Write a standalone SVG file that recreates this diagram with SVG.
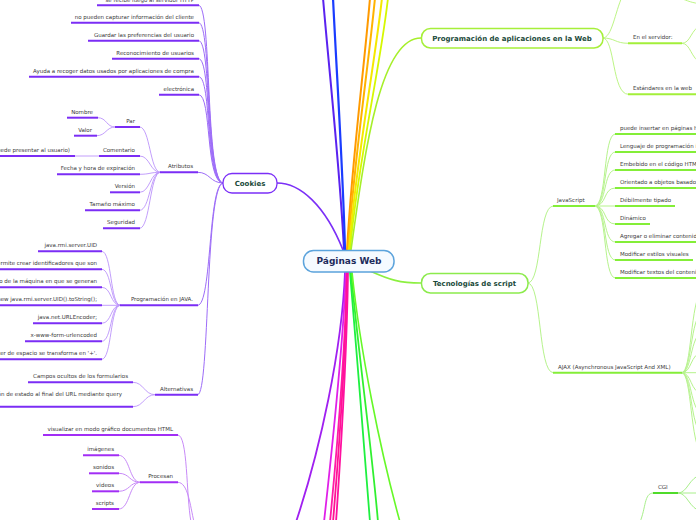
<svg xmlns="http://www.w3.org/2000/svg" width="696" height="520" viewBox="0 0 696 520">
<style>
.t{font-family:"DejaVu Sans",Verdana,sans-serif;font-size:5.5px;fill:#3a3a3a}
.e{text-anchor:end}
.h{font-family:"DejaVu Sans",Verdana,sans-serif;font-weight:bold;font-size:7px;fill:#1b4a3a;text-anchor:middle}
.c{fill:none;stroke-linecap:round}
.uc{stroke:#7b2df5;stroke-width:2;fill:none}
.ub{stroke:#a22ef5;stroke-width:2;fill:none}
.ug{stroke:#a3ef3a;stroke-width:2;fill:none}
.uj{stroke:#84ee38;stroke-width:2;fill:none}
.ux{stroke:#4fdb2a;stroke-width:2;fill:none}
.cc{stroke:#9d6cf8;stroke-width:1}
.cc3{stroke:#bb93fb;stroke-width:0.9}
.cb{stroke:#c88af8;stroke-width:1}
.cg{stroke:#bdf585;stroke-width:1}
.cj{stroke:#b6f38c;stroke-width:1}
.cx{stroke:#a8ef8a;stroke-width:1}
</style>
<g id="connectors" class="c">
  <!-- main branches from center -->
  <path d="M344,250 C340,170 330,80 323,-2" stroke="#5a22f0" stroke-width="2"/>
  <path d="M345,250 C343,170 337,80 333,-2" stroke="#1a3cff" stroke-width="2.2"/>
  <path d="M347,250 C352,160 364,70 370,-2" stroke="#ff9a00" stroke-width="2"/>
  <path d="M348,250 C354,160 368,70 375,-2" stroke="#ffb300" stroke-width="2"/>
  <path d="M349,250 C356,160 374,70 382,-2" stroke="#f5e800" stroke-width="2"/>
  <path d="M350,250 C358,160 380,70 388,-2" stroke="#d6f800" stroke-width="1.8"/>
  <path d="M351,250 C365,150 380,38 421,38" stroke="#a6ef2a" stroke-width="1.6"/>
  <path d="M343,250 C325,205 300,183 277,183" stroke="#7b2ff7" stroke-width="1.6"/>
  <path d="M370,271 C390,280 400,283 421,283" stroke="#8cf040" stroke-width="1.6"/>
  <path d="M345,272 C342,350 320,450 296,522" stroke="#a020f0" stroke-width="1.8"/>
  <path d="M346,272 C343,350 332,450 324,522" stroke="#e020e8" stroke-width="1.8"/>
  <path d="M347,272 C345,350 337,450 330,522" stroke="#ff1aa8" stroke-width="1.8"/>
  <path d="M347,272 C346,350 339,450 333,522" stroke="#ff1493" stroke-width="1.8"/>
  <path d="M348,272 C347,350 341,450 336,522" stroke="#ff10a0" stroke-width="1.8"/>
  <path d="M350,272 C356,350 365,450 370,522" stroke="#1ef040" stroke-width="1.8"/>
  <path d="M351,272 C358,350 372,450 378,522" stroke="#30f030" stroke-width="1.8"/>
  <path d="M352,272 C360,350 380,450 400,522" stroke="#66f828" stroke-width="1.6"/>

  <!-- Cookies level 2 -->
  <path class="cc" d="M223,183 C205,183 212,5.3 199,5.3"/>
  <path class="cc" d="M223,183 C205,183 212,22.7 199,22.7"/>
  <path class="cc" d="M223,183 C205,183 212,40.7 199,40.7"/>
  <path class="cc" d="M223,183 C205,183 212,58.7 199,58.7"/>
  <path class="cc" d="M223,183 C205,183 212,76.7 199,76.7"/>
  <path class="cc" d="M223,183 C205,183 212,94.7 199,94.7"/>
  <path class="cc" d="M223,183 C210,183 210,172.3 198,172.3"/>
  <path class="cc" d="M223,183 C208,183 212,305.3 198,305.3"/>
  <path class="cc" d="M223,183 C205,183 210,394.7 198,394.7"/>
  <!-- Atributos children -->
  <path class="cc3" d="M160,172.3 C150,172.3 150,127 140,127"/>
  <path class="cc3" d="M160,172.3 C150,172.3 150,156 140,156"/>
  <path class="cc3" d="M160,172.3 C150,172.3 150,174.3 140,174.3"/>
  <path class="cc3" d="M160,172.3 C150,172.3 150,192.3 140,192.3"/>
  <path class="cc3" d="M160,172.3 C150,172.3 150,210.3 140,210.3"/>
  <path class="cc3" d="M160,172.3 C150,172.3 150,228.3 140,228.3"/>
  <path class="cc3" d="M115,127 C106,127 107,117.7 98,117.7"/>
  <path class="cc3" d="M115,127 C106,127 106,135.7 97,135.7"/>
  <path class="cc3" d="M99,156 L75,156"/>
  <!-- JAVA children -->
  <path class="cc3" d="M120,305.3 C110,305.3 112,251.3 102,251.3"/>
  <path class="cc3" d="M120,305.3 C110,305.3 112,269.3 102,269.3"/>
  <path class="cc3" d="M120,305.3 C110,305.3 112,287.3 102,287.3"/>
  <path class="cc3" d="M120,305.3 L102,305.3"/>
  <path class="cc3" d="M120,305.3 C110,305.3 112,323.3 102,323.3"/>
  <path class="cc3" d="M120,305.3 C110,305.3 112,341.3 102,341.3"/>
  <path class="cc3" d="M120,305.3 C110,305.3 112,359.3 102,359.3"/>
  <!-- Alternativas children -->
  <path class="cc3" d="M155,394.7 C144,394.7 144,382.3 133,382.3"/>
  <path class="cc3" d="M155,394.7 C144,394.7 144,406.7 133,406.7"/>
  <!-- browser branch -->
  <path class="cb" d="M178,435 C188,435 186,495 191,522"/>
  <path class="cb" d="M178,482.3 C188,482.3 190,505 194,522"/>
  <path class="cb" d="M140,482.3 C129,482.3 130,455.3 119,455.3"/>
  <path class="cb" d="M140,482.3 C129,482.3 130,473.3 119,473.3"/>
  <path class="cb" d="M140,482.3 C129,482.3 130,491.3 119,491.3"/>
  <path class="cb" d="M140,482.3 C129,482.3 130,509 119,509"/>

  <!-- Programación children -->
  <path class="cg" d="M603,38 C612,38 615,12 622,-3"/>
  <path class="cg" d="M603,38 C615,38 615,43.3 628,43.3"/>
  <path class="cg" d="M603,38 C615,38 612,94.3 628,94.3"/>
  <path class="cg" d="M682,43.3 C691,43.3 690,30 702,24"/>
  <path class="cg" d="M682,43.3 C691,43.3 690,58 702,64"/>
  <path class="cg" d="M680,-2 C688,1 692,3 702,4"/>

  <!-- Tecnologías children -->
  <path class="cj" d="M528,283 C542,283 538,206 553,206"/>
  <path class="cj" d="M528,283 C542,283 538,372.7 553,372.7"/>
  <path class="cj" d="M595,206 C607,206 603,134 615,134"/>
  <path class="cj" d="M595,206 C607,206 603,152 615,152"/>
  <path class="cj" d="M595,206 C607,206 603,170 615,170"/>
  <path class="cj" d="M595,206 C607,206 603,188 615,188"/>
  <path class="cj" d="M595,206 L615,206"/>
  <path class="cj" d="M595,206 C607,206 603,224 615,224"/>
  <path class="cj" d="M595,206 C607,206 603,242 615,242"/>
  <path class="cj" d="M595,206 C607,206 603,260 615,260"/>
  <path class="cj" d="M595,206 C607,206 603,278 615,278"/>
  <path class="cj" d="M682,372.7 C692,372.7 690,300 702,290"/>
  <path class="cj" d="M682,372.7 C692,372.7 690,318 702,312"/>
  <path class="cj" d="M682,372.7 C692,372.7 690,336 702,332"/>
  <path class="cj" d="M682,372.7 C692,372.7 690,354 702,352"/>
  <path class="cj" d="M682,372.7 L702,372.7"/>
  <path class="cj" d="M682,372.7 C692,372.7 690,392 702,394"/>
  <path class="cj" d="M682,372.7 C692,372.7 690,410 702,414"/>
  <path class="cj" d="M682,372.7 C692,372.7 690,428 702,434"/>
  <path class="cj" d="M682,372.7 C692,372.7 690,446 702,454"/>
  <!-- CGI -->
  <path class="cx" d="M653,493 C644,493 646,508 640,522"/>
  <path class="cx" d="M678,493 C688,493 688,478 702,474"/>
  <path class="cx" d="M678,493 L702,493"/>
  <path class="cx" d="M678,493 C688,493 688,508 702,512"/>
</g>

<g id="center">
  <rect x="303.5" y="250.5" width="90.5" height="21.5" rx="10" fill="#f5faff" stroke="#5ba3dc" stroke-width="1.5"/>
  <text x="349" y="264.4" font-family="DejaVu Sans, Verdana, sans-serif" font-weight="bold" font-size="9" fill="#1d2b5c" text-anchor="middle">Páginas Web</text>
</g>

<g id="cookies">
  <rect x="223" y="173.5" width="54" height="19.5" rx="9" fill="#fff" stroke="#7b2ff7" stroke-width="1.3"/>
  <text class="h" x="250" y="185.6">Cookies</text>
</g>
<g id="c1"><line class="uc" x1="97" y1="5.3" x2="199" y2="5.3"/><text class="t e" x="194" y="1.6">se recibe luego al servidor HTTP</text></g>
<g id="c2"><line class="uc" x1="71" y1="22.7" x2="199" y2="22.7"/><text class="t e" x="194" y="18.8">no pueden capturar información del cliente</text></g>
<g id="c3"><line class="uc" x1="88" y1="40.7" x2="199" y2="40.7"/><text class="t e" x="194" y="36.8">Guardar las preferencias del usuario</text></g>
<g id="c4"><line class="uc" x1="112" y1="58.7" x2="199" y2="58.7"/><text class="t e" x="194" y="54.8">Reconocimiento de usuarios</text></g>
<g id="c5"><line class="uc" x1="29" y1="76.7" x2="199" y2="76.7"/><text class="t e" x="194" y="72.8">Ayuda a recoger datos usados por aplicaciones de compra</text></g>
<g id="c6"><line class="uc" x1="159" y1="94.7" x2="199" y2="94.7"/><text class="t e" x="194" y="90.8">electrónica</text></g>

<g id="atributos"><line class="uc" x1="160" y1="172.3" x2="198" y2="172.3"/><text class="t e" x="193" y="168.4">Atributos</text></g>
<g id="par"><line class="uc" x1="115" y1="127" x2="140" y2="127"/><text class="t e" x="135" y="123.1">Par</text></g>
<g id="nombre"><line class="uc" x1="67" y1="117.7" x2="98" y2="117.7"/><text class="t e" x="93" y="113.8">Nombre</text></g>
<g id="valor"><line class="uc" x1="74" y1="135.7" x2="97" y2="135.7"/><text class="t e" x="92" y="131.8">Valor</text></g>
<g id="comentario"><line class="uc" x1="99" y1="156" x2="140" y2="156"/><text class="t e" x="135" y="152.1">Comentario</text></g>
<g id="comentario-det"><line class="uc" x1="-5" y1="156" x2="75" y2="156"/><text class="t e" x="70" y="152.1">(puede presentar al usuario)</text></g>
<g id="fecha"><line class="uc" x1="57" y1="174.3" x2="140" y2="174.3"/><text class="t e" x="135" y="170.4">Fecha y hora de expiración</text></g>
<g id="version"><line class="uc" x1="110" y1="192.3" x2="140" y2="192.3"/><text class="t e" x="135" y="188.4">Versión</text></g>
<g id="tamano"><line class="uc" x1="85" y1="210.3" x2="140" y2="210.3"/><text class="t e" x="135" y="206.4">Tamaño máximo</text></g>
<g id="seguridad"><line class="uc" x1="103" y1="228.3" x2="140" y2="228.3"/><text class="t e" x="135" y="224.4">Seguridad</text></g>

<g id="java"><line class="uc" x1="120" y1="305.3" x2="198" y2="305.3"/><text class="t e" x="193" y="301.4">Programación en JAVA.</text></g>
<g id="j1"><line class="uc" x1="38" y1="251.3" x2="102" y2="251.3"/><text class="t e" x="97" y="247.4">java.rmi.server.UID</text></g>
<g id="j2"><line class="uc" x1="-5" y1="269.3" x2="102" y2="269.3"/><text class="t e" x="97" y="265.4">Permite crear identificadores que son</text></g>
<g id="j3"><line class="uc" x1="-5" y1="287.3" x2="102" y2="287.3"/><text class="t e" x="97" y="283.4">únicos respecto de la máquina en que se generan</text></g>
<g id="j4"><line class="uc" x1="-5" y1="305.3" x2="102" y2="305.3"/><text class="t e" x="97" y="301.4">new java.rmi.server.UID().toString();</text></g>
<g id="j5"><line class="uc" x1="33" y1="323.3" x2="102" y2="323.3"/><text class="t e" x="97" y="319.4">java.net.URLEncoder;</text></g>
<g id="j6"><line class="uc" x1="25" y1="341.3" x2="102" y2="341.3"/><text class="t e" x="97" y="337.4">x-www-form-urlencoded</text></g>
<g id="j7"><line class="uc" x1="-5" y1="359.3" x2="102" y2="359.3"/><text class="t e" x="97" y="355.4">El caracter de espacio se transforma en '+'.</text></g>

<g id="alternativas"><line class="uc" x1="155" y1="394.7" x2="198" y2="394.7"/><text class="t e" x="193" y="390.8">Alternativas</text></g>
<g id="a1"><line class="uc" x1="28" y1="382.3" x2="133" y2="382.3"/><text class="t e" x="128" y="378.4">Campos ocultos de los formularios</text></g>
<g id="a2"><line class="uc" x1="-5" y1="406.7" x2="133" y2="406.7"/><text class="t e" x="122" y="396">Añadir información de estado al final del URL mediante query</text></g>

<g id="visualizar"><line class="ub" x1="43" y1="435" x2="178" y2="435"/><text class="t e" x="173" y="431.1">visualizar en modo gráfico documentos HTML</text></g>
<g id="procesan"><line class="ub" x1="140" y1="482.3" x2="178" y2="482.3"/><text class="t e" x="173" y="478.4">Procesan</text></g>
<g id="imagenes"><line class="ub" x1="83" y1="455.3" x2="119" y2="455.3"/><text class="t e" x="114" y="451.4">imágenes</text></g>
<g id="sonidos"><line class="ub" x1="89" y1="473.3" x2="119" y2="473.3"/><text class="t e" x="114" y="469.4">sonidos</text></g>
<g id="videos"><line class="ub" x1="92" y1="491.3" x2="119" y2="491.3"/><text class="t e" x="114" y="487.4">videos</text></g>
<g id="scripts"><line class="ub" x1="92" y1="509" x2="119" y2="509"/><text class="t e" x="114" y="505.1">scripts</text></g>

<g id="programacion">
  <rect x="421.5" y="28.5" width="181.5" height="19.5" rx="9" fill="#fff" stroke="#a6ef3a" stroke-width="1.5"/>
  <text class="h" x="512" y="40.6">Programación de aplicaciones en la Web</text>
</g>
<g id="servidor"><line class="ug" x1="628" y1="43.3" x2="682" y2="43.3"/><text class="t" x="633" y="39.4">En el servidor:</text></g>
<g id="estandares"><line class="ug" x1="628" y1="94.3" x2="700" y2="94.3"/><text class="t" x="633" y="90.4">Estándares en la web</text></g>

<g id="tecnologias">
  <rect x="421.5" y="273.5" width="106.5" height="19.5" rx="9" fill="#fff" stroke="#8ceb4c" stroke-width="1.5"/>
  <text class="h" x="474.5" y="285.6">Tecnologías de script</text>
</g>
<g id="javascript"><line class="uj" x1="553" y1="206" x2="595" y2="206"/><text class="t" x="557" y="202.1">JavaScript</text></g>
<g id="js1"><line class="uj" x1="615" y1="134" x2="700" y2="134"/><text class="t" x="620" y="130.1">puede insertar en páginas HTML</text></g>
<g id="js2"><line class="uj" x1="615" y1="152" x2="700" y2="152"/><text class="t" x="620" y="148.1">Lenguaje de programación interpretado</text></g>
<g id="js3"><line class="uj" x1="615" y1="170" x2="700" y2="170"/><text class="t" x="620" y="166.1">Embebido en el código HTML</text></g>
<g id="js4"><line class="uj" x1="615" y1="188" x2="700" y2="188"/><text class="t" x="620" y="184.1">Orientado a objetos basado en prototipos</text></g>
<g id="js5"><line class="uj" x1="615" y1="206" x2="675" y2="206"/><text class="t" x="620" y="202.1">Débilmente tipado</text></g>
<g id="js6"><line class="uj" x1="615" y1="224" x2="650" y2="224"/><text class="t" x="620" y="220.1">Dinámico</text></g>
<g id="js7"><line class="uj" x1="615" y1="242" x2="700" y2="242"/><text class="t" x="620" y="238.1">Agregar o eliminar contenido</text></g>
<g id="js8"><line class="uj" x1="615" y1="260" x2="693" y2="260"/><text class="t" x="620" y="256.1">Modificar estilos visuales</text></g>
<g id="js9"><line class="uj" x1="615" y1="278" x2="700" y2="278"/><text class="t" x="620" y="274.1">Modificar textos del contenido</text></g>
<g id="ajax"><line class="uj" x1="553" y1="372.7" x2="682" y2="372.7"/><text class="t" x="558" y="368.8">AJAX (Asynchronous JavaScript And XML)</text></g>
<g id="cgi"><line class="ux" x1="653" y1="493" x2="678" y2="493"/><text class="t" x="658" y="489.1">CGI</text></g>
</svg>
